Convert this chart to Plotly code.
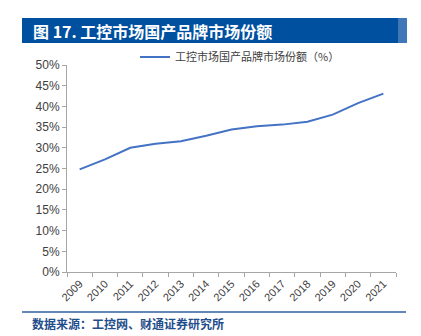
import plotly.graph_objects as go

years = [str(y) for y in range(2009, 2022)]
share = [24.8, 27.2, 30.0, 31.0, 31.6, 32.9, 34.4, 35.2, 35.6, 36.3, 38.0, 40.8, 43.1]
series_name = "工控市场国产品牌市场份额（%）"
title_text = "图 17. 工控市场国产品牌市场份额"
source_text = "数据来源：工控网、财通证券研究所"
y_ticks = list(range(0, 51, 5))

W, H = 421, 336
L, R, T, B = 67, 25, 65, 64
PW, PH = W - L - R, H - T - B

def px(x):
    return (x - L) / PW

def py(y):
    return (H - B - y) / PH

fig = go.Figure()
fig.add_trace(go.Scatter(
    x=years, y=share, mode="lines", name=series_name,
    line=dict(color="#4472C4", width=2),
))

font_fam = "Noto Sans CJK SC, Liberation Sans, Arial, sans-serif"

fig.update_layout(
    width=W, height=H,
    margin=dict(l=L, r=R, t=T, b=B),
    paper_bgcolor="white", plot_bgcolor="white",
    font=dict(family=font_fam, color="#404040", size=11),
    showlegend=True,
    legend=dict(x=px(135), y=py(57), xanchor="left", yanchor="middle",
                font=dict(size=11, color="#404040"), bgcolor="rgba(0,0,0,0)",
                itemwidth=30),
    xaxis=dict(type="category", range=[-0.5, 12.5], showline=True,
               linecolor="#A6A6A6", linewidth=1, ticks="outside",
               tickson="boundaries", ticklen=4, tickcolor="#A6A6A6",
               tickangle=-45, showgrid=False, tickfont=dict(size=11, family="Liberation Sans, Arial", color="#404040")),
    yaxis=dict(range=[0, 50], tickvals=y_ticks,
               ticktext=[f"{v}%" for v in y_ticks], showline=True,
               linecolor="#A6A6A6", linewidth=1, ticks="outside", ticklen=4,
               tickcolor="#A6A6A6", showgrid=False, zeroline=False,
               tickfont=dict(size=12, family="Liberation Sans, Arial", color="#404040")),
    shapes=[
        dict(type="rect", xref="paper", yref="paper",
             x0=px(22), x1=px(407), y0=py(43), y1=py(18),
             fillcolor="#0050A0", line=dict(width=0), layer="below"),
        dict(type="rect", xref="paper", yref="paper",
             x0=px(398), x1=px(407), y0=py(43), y1=py(18),
             fillcolor="#3F77B8", line=dict(width=0), layer="below"),
        dict(type="line", xref="paper", yref="paper",
             x0=px(22), x1=px(406), y0=py(312), y1=py(312),
             line=dict(color="#2F5F9E", width=1.3)),
    ],
    annotations=[
        dict(text="<b>" + title_text + "</b>", xref="paper", yref="paper",
             x=px(31), y=py(31), xanchor="left", yanchor="middle",
             showarrow=False, font=dict(size=16, color="white", family=font_fam)),
        dict(text="<b>" + source_text + "</b>", xref="paper", yref="paper",
             x=px(30), y=py(323), xanchor="left", yanchor="middle",
             showarrow=False, font=dict(size=12, color="#1F4E8C", family=font_fam)),
    ],
)

fig.write_html("out.html")
